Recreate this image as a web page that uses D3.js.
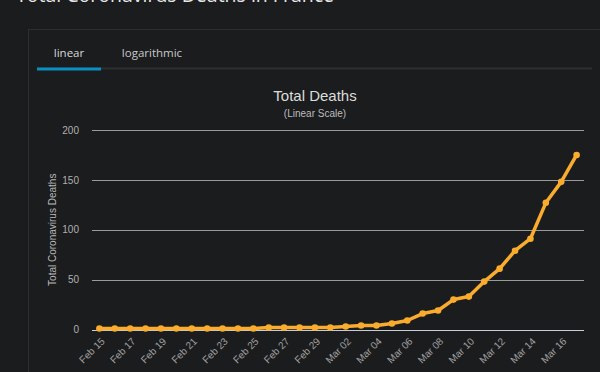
<!DOCTYPE html>
<html><head><meta charset="utf-8">
<script src="https://cdn.jsdelivr.net/npm/d3@7"></script>
<style>
html,body{margin:0;padding:0;background:#1b1c1e;overflow:hidden;}
svg{display:block;}
</style></head>
<body>
<svg id="c" width="600" height="372"></svg>
<script>
const dates = ["Feb 15","Feb 16","Feb 17","Feb 18","Feb 19","Feb 20","Feb 21","Feb 22","Feb 23","Feb 24","Feb 25","Feb 26","Feb 27","Feb 28","Feb 29","Mar 01","Mar 02","Mar 03","Mar 04","Mar 05","Mar 06","Mar 07","Mar 08","Mar 09","Mar 10","Mar 11","Mar 12","Mar 13","Mar 14","Mar 15","Mar 16","Mar 17"];
const deaths = [1,1,1,1,1,1,1,1,1,1,1,2,2,2,2,2,3,4,4,6,9,16,19,30,33,48,61,79,91,127,148,175];
const yTicks = [0,50,100,150,200];
const tabs = ["linear","logarithmic"];

const svg = d3.select("#c");
const W = 600, H = 372;
svg.append("rect").attr("width",W).attr("height",H).attr("fill","#1b1c1e");

// page title (cut off at top, as in the reference)
svg.append("text").attr("x",16).attr("y",2).attr("fill","#e8e8e8")
  .style("font-family","'Open Sans', sans-serif").style("font-size","19.5px")
  .text("Total Coronavirus Deaths in France");

// panel
svg.append("rect").attr("x",28.5).attr("y",29.5).attr("width",580).attr("height",360)
  .attr("fill","#1b1c1e").attr("stroke","#2c2e31").attr("stroke-width",1);

// tabs
svg.append("line").attr("x1",37).attr("x2",592).attr("y1",68.5).attr("y2",68.5)
  .attr("stroke","#2c2e31").attr("stroke-width",2);
svg.append("line").attr("x1",37).attr("x2",101).attr("y1",69).attr("y2",69)
  .attr("stroke","#0b8ec2").attr("stroke-width",3);
const tabX = [69,152];
tabs.forEach((t,i)=>{
  svg.append("text").attr("x",tabX[i]).attr("y",57).attr("text-anchor","middle")
    .attr("fill", i===0 ? "#d8d8d8" : "#c8c8c8")
    .style("font-family","'Open Sans', sans-serif").style("font-size","11.5px")
    .text(t);
});

// chart titles
svg.append("text").attr("x",315).attr("y",101).attr("text-anchor","middle").attr("fill","#dcdcdc")
  .style("font-family","'Liberation Sans', Arial, sans-serif").style("font-size","15px").text("Total Deaths");
svg.append("text").attr("x",315).attr("y",117).attr("text-anchor","middle").attr("fill","#bdbdbd")
  .style("font-family","'Liberation Sans', Arial, sans-serif").style("font-size","10px").text("(Linear Scale)");

const pL = 92, pR = 584, pT = 130, pB = 329.5;
const x = d3.scalePoint().domain(dates).range([pL,pR]).padding(0.48);
const y = d3.scaleLinear().domain([0,200]).range([pB,pT]);

// grid
const grid = svg.append("g");
grid.selectAll("line").data(yTicks).join("line")
  .attr("x1",pL).attr("x2",pR)
  .attr("y1",d=>Math.round(y(d))+0.5).attr("y2",d=>Math.round(y(d))+0.5)
  .attr("stroke",d=>d===0?"#c8ccd4":"#9a9a9a").attr("stroke-width",1);

// y axis labels
const yAxis = d3.axisLeft(y).tickValues(yTicks).tickSize(0).tickPadding(0);
const gy = svg.append("g").attr("transform",`translate(${pL-13},0)`).call(yAxis);
gy.select(".domain").remove();
gy.selectAll("text").attr("fill","#b0b0b0").style("font-family","'Liberation Sans', Arial, sans-serif").style("font-size","10px");

svg.append("text").attr("transform",`translate(56,${(pT+pB)/2}) rotate(-90)`)
  .attr("text-anchor","middle").attr("fill","#b8b8b8")
  .style("font-family","'Liberation Sans', Arial, sans-serif").style("font-size","10px")
  .text("Total Coronavirus Deaths");

// x axis
const tickDates = dates.filter((d,i)=>i%2===0);
const xAxis = d3.axisBottom(x).tickValues(tickDates).tickSize(0).tickPadding(0);
const gx = svg.append("g").attr("transform",`translate(0,${pB+8})`).call(xAxis);
gx.select(".domain").remove();
gx.selectAll("text").attr("fill","#a0a0a0")
  .style("font-family","'Liberation Sans', Arial, sans-serif").style("font-size","10px")
  .attr("text-anchor","end").attr("dy","0.35em")
  .attr("transform","translate(3,2) rotate(-45)");

// line
const line = d3.line().x((d,i)=>x(dates[i])).y(d=>y(d));
svg.append("path").datum(deaths).attr("d",line).attr("fill","none")
  .attr("stroke","#f9ac2d").attr("stroke-width",3.5).attr("stroke-linejoin","round");
svg.append("g").selectAll("circle").data(deaths).join("circle")
  .attr("cx",(d,i)=>x(dates[i])).attr("cy",d=>y(d)).attr("r",3.3).attr("fill","#f9ac2d");
</script>
</body></html>
